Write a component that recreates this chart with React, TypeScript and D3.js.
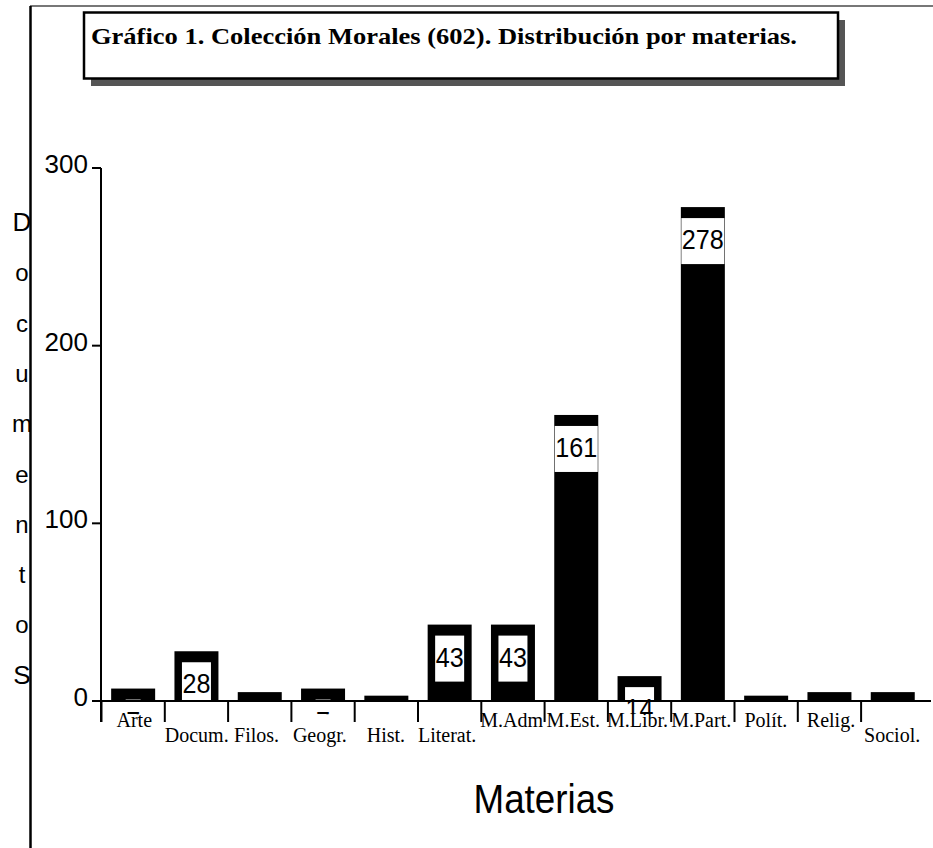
import React from 'react';
import * as d3 from 'd3';

const categories = ['Arte', 'Docum.', 'Filos.', 'Geogr.', 'Hist.', 'Literat.', 'M.Adm', 'M.Est.', 'M.Libr.', 'M.Part.', 'Polít.', 'Relig.', 'Sociol.'];
const values = [7, 28, 5, 7, 3, 43, 43, 161, 14, 278, 3, 5, 5];
const yTicks = [0, 100, 200, 300];
const title = 'Gráfico 1. Colección Morales (602). Distribución por materias.';
const yTitle = 'Documentos';
const xTitle = 'Materias';

// label placement under the axis: [offset from band start, baseline]
const labelLayout: [number, number][] = [
  [15, 727], [0, 742], [6, 742], [1.5, 742], [12, 742], [0, 742],
  [-1, 727], [2, 727], [-1, 727], [0, 727], [10, 727], [9, 727], [3, 742],
];

const W = 933;
const H = 848;
const sans = '"Liberation Sans", Arial, sans-serif';
const serif = '"Liberation Serif", "Times New Roman", serif';

const App: React.FC = () => {
  const x0 = 101.5;
  const x1 = 924.4;
  const xScale = d3.scaleBand<string>().domain(categories).range([x0, x1]).paddingInner(0.305).paddingOuter(0.1525);
  const yScale = d3.scaleLinear().domain([0, 300]).range([701, 168]);
  const step = xScale.step();
  const bandStart = (c: string) => (xScale(c) as number) - step * 0.1525;

  return (
    <svg width={W} height={H} style={{ position: 'absolute', left: 0, top: 0, background: '#fff' }}>
      <defs>
        <clipPath id="lblClip">
          <rect x={0} y={0} width={W} height={714.3} />
        </clipPath>
        <clipPath id="barClip">
          <rect x={0} y={0} width={W} height={700} />
        </clipPath>
      </defs>
      <rect width={W} height={H} fill="#fff" />

      {/* outer frame */}
      <line x1={30} x2={W} y1={6} y2={6} stroke="#777" strokeWidth={2} />
      <line x1={30.5} x2={30.5} y1={6} y2={H} stroke="#000" strokeWidth={2.5} />

      {/* title box with shadow */}
      <rect x={91} y={20} width={754} height={66} fill="#555" />
      <rect x={84} y={12.5} width={754} height={66} fill="#fff" stroke="#000" strokeWidth={2.5} />
      <text x={91} y={44} fontFamily={serif} fontWeight="bold" fontSize={24} textLength={706} lengthAdjust="spacingAndGlyphs">
        {title}
      </text>

      {/* bars */}
      {categories.map((c, i) => (
        <rect key={c} x={xScale(c)} y={yScale(values[i])} width={xScale.bandwidth()} height={yScale(0) - yScale(values[i])} fill="#000" />
      ))}

      {/* value labels */}
      <g clipPath="url(#lblClip)">
        {categories.map((c, i) => {
          const s = String(values[i]);
          const bw = s.length * 14 + 1;
          const cx = (xScale(c) as number) + xScale.bandwidth() / 2;
          const top = yScale(values[i]) + 11;
          return (
            <g key={c}>
              <rect x={cx - bw / 2} y={top} width={bw} height={46} fill="#fff" />
              <text x={cx} y={top + 31} textAnchor="middle" fontFamily={sans} fontSize={27} textLength={s.length * 14} lengthAdjust="spacingAndGlyphs">
                {s}
              </text>
            </g>
          );
        })}
      </g>

      {/* y axis */}
      <line x1={101} x2={101} y1={yScale(300)} y2={722} stroke="#000" strokeWidth={2} />
      {yTicks.map((t) => (
        <g key={t}>
          <line x1={92} x2={101} y1={yScale(t)} y2={yScale(t)} stroke="#000" strokeWidth={2} />
          <text x={88} y={yScale(t) + 5} textAnchor="end" fontFamily={sans} fontSize={26}>
            {t}
          </text>
        </g>
      ))}

      {/* x axis */}
      <line x1={93} x2={931} y1={yScale(0)} y2={yScale(0)} stroke="#000" strokeWidth={2} />
      {categories.map((c) => (
        <line key={c} x1={bandStart(c)} x2={bandStart(c)} y1={yScale(0)} y2={722} stroke="#000" strokeWidth={2} />
      ))}
      {categories.map((c, i) => (
        <text key={c} x={bandStart(c) + labelLayout[i][0]} y={labelLayout[i][1]} fontFamily={serif} fontSize={20}>
          {c}
        </text>
      ))}

      {/* axis titles */}
      <text x={544} y={813} textAnchor="middle" fontFamily={sans} fontSize={40} textLength={141} lengthAdjust="spacingAndGlyphs">
        {xTitle}
      </text>
      {yTitle.split('').map((ch, i) => (
        <text key={i} x={22} y={231 + i * 50.3} textAnchor="middle" fontFamily={sans} fontSize={ch === 'D' || i === yTitle.length - 1 ? 26 : 24}>
          {i === yTitle.length - 1 ? ch.toUpperCase() : ch}
        </text>
      ))}
    </svg>
  );
};

export default App;
